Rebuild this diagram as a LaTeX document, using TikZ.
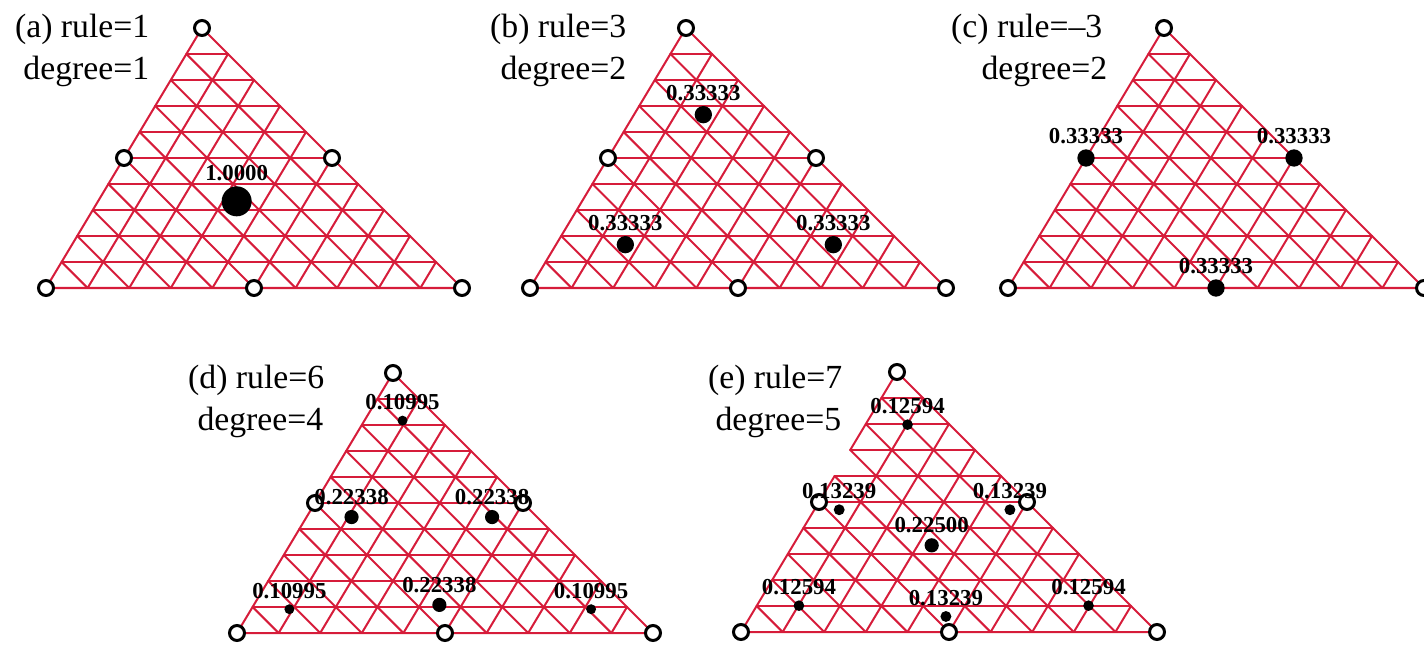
\documentclass[tikz,border=0pt]{standalone}
\usepackage{fontspec}
\setmainfont{Liberation Serif}
\usetikzlibrary{
    calc,
    positioning
}
\definecolor{meshred}{RGB}{214,28,58}
\definecolor{ink}{RGB}{0,0,0}
\tikzset{
    mesh/.style={
        draw=meshred,
        line width=0.57pt,
        line cap=round,
        line join=round
    },
    gridpt/.style={
        circle,
        draw=ink,
        line width=0.85pt,
        fill=white,
        inner sep=0pt,
        minimum size=0.15cm
    },
    qpoint/.style={
        circle,
        fill=ink,
        inner sep=0pt,
        minimum size={0.3cm*sqrt(#1)}
    },
    weight/.style={
        font=\fontsize{6.5}{7}\selectfont\bfseries,
        text=ink,
        inner sep=0pt
    },
    caption/.style={
        font=\fontsize{9.6}{11}\selectfont,
        text=ink,
        inner sep=0pt,
        anchor=base east
    }
}
% inner lines of a triangle cut into 10 x 10 pieces: #1 left, #2 right, #3 top
\newcommand{\trimesh}[3]{%
    \foreach \i in {1,...,9} {
        \draw[mesh] ($(#3)!\i/10!(#1)$) -- ($(#3)!\i/10!(#2)$);
        \draw[mesh] ($(#1)!\i/10!(#2)$) -- ($(#3)!\i/10!(#2)$);
        \draw[mesh] ($(#2)!\i/10!(#1)$) -- ($(#3)!\i/10!(#1)$);
    }%
}

\begin{document}
\begin{tikzpicture}
\useasboundingbox (0,0) rectangle (14.24,-6.47);

% (a) rule=1
\begin{scope}[shift={(0.46,-2.88)}]
    \coordinate (aL) at (0,0);
    \coordinate (aR) at (4.16,0);
    \coordinate (aT) at (1.56,2.60);
    \trimesh{aL}{aR}{aT}
    \draw[mesh] (aL) -- (aR) -- (aT) -- cycle;
    % nodes of the element
    \node[gridpt] (a-n1) at (aL) {};
    \node[gridpt] (a-n2) at (aR) {};
    \node[gridpt] (a-n3) at (aT) {};
    \node[gridpt] (a-n4) at ($(aL)!0.5!(aR)$) {};
    \node[gridpt] (a-n5) at ($(aR)!0.5!(aT)$) {};
    \node[gridpt] (a-n6) at ($(aT)!0.5!(aL)$) {};
    % quadrature point
    \node[qpoint=1] (a-q1) at (barycentric cs:aL=1,aR=1,aT=1) {};
    \node[weight, above=0.04cm of a-q1] (a-w1) {1.0000};
\end{scope}
\node[caption] (a-rule) at (1.50,-0.38) {(a) rule=1};
\node[caption] (a-deg) at (1.50,-0.80) {degree=1};

% (b) rule=3
\begin{scope}[shift={(5.30,-2.88)}]
    \coordinate (bL) at (0,0);
    \coordinate (bR) at (4.16,0);
    \coordinate (bT) at (1.56,2.60);
    \trimesh{bL}{bR}{bT}
    \draw[mesh] (bL) -- (bR) -- (bT) -- cycle;
    \node[gridpt] (b-n1) at (bL) {};
    \node[gridpt] (b-n2) at (bR) {};
    \node[gridpt] (b-n3) at (bT) {};
    \node[gridpt] (b-n4) at ($(bL)!0.5!(bR)$) {};
    \node[gridpt] (b-n5) at ($(bR)!0.5!(bT)$) {};
    \node[gridpt] (b-n6) at ($(bT)!0.5!(bL)$) {};
    \node[qpoint=0.33333] (b-q1) at (barycentric cs:bL=4,bR=1,bT=1) {};
    \node[qpoint=0.33333] (b-q2) at (barycentric cs:bL=1,bR=4,bT=1) {};
    \node[qpoint=0.33333] (b-q3) at (barycentric cs:bL=1,bR=1,bT=4) {};
    \node[weight, above=0.04cm of b-q1] (b-w1) {0.33333};
    \node[weight, above=0.04cm of b-q2] (b-w2) {0.33333};
    \node[weight, above=0.04cm of b-q3] (b-w3) {0.33333};
\end{scope}
\node[caption] (b-rule) at (6.27,-0.38) {(b) rule=3};
\node[caption] (b-deg) at (6.27,-0.80) {degree=2};

% (c) rule=-3
\begin{scope}[shift={(10.08,-2.88)}]
    \coordinate (cL) at (0,0);
    \coordinate (cR) at (4.16,0);
    \coordinate (cT) at (1.56,2.60);
    \trimesh{cL}{cR}{cT}
    \draw[mesh] (cL) -- (cR) -- (cT) -- cycle;
    \node[gridpt] (c-n1) at (cL) {};
    \node[gridpt] (c-n2) at (cR) {};
    \node[gridpt] (c-n3) at (cT) {};
    \node[qpoint=0.33333] (c-q1) at (barycentric cs:cL=1,cR=1,cT=0) {};
    \node[qpoint=0.33333] (c-q2) at (barycentric cs:cL=0,cR=1,cT=1) {};
    \node[qpoint=0.33333] (c-q3) at (barycentric cs:cL=1,cR=0,cT=1) {};
    \node[weight, above=0.04cm of c-q1] (c-w1) {0.33333};
    \node[weight, above=0.04cm of c-q2] (c-w2) {0.33333};
    \node[weight, above=0.04cm of c-q3] (c-w3) {0.33333};
\end{scope}
\node[caption] (c-rule) at (11.03,-0.38) {(c) rule=–3};
\node[caption] (c-deg) at (11.08,-0.80) {degree=2};

% (d) rule=6
\begin{scope}[shift={(2.37,-6.33)}]
    \coordinate (dL) at (0,0);
    \coordinate (dR) at (4.16,0);
    \coordinate (dT) at (1.56,2.60);
    \trimesh{dL}{dR}{dT}
    \draw[mesh] (dL) -- (dR) -- (dT) -- cycle;
    \node[gridpt] (d-n1) at (dL) {};
    \node[gridpt] (d-n2) at (dR) {};
    \node[gridpt] (d-n3) at (dT) {};
    \node[gridpt] (d-n4) at ($(dL)!0.5!(dR)$) {};
    \node[gridpt] (d-n5) at ($(dR)!0.5!(dT)$) {};
    \node[gridpt] (d-n6) at ($(dT)!0.5!(dL)$) {};
    % points near the vertices
    \node[qpoint=0.10995] (d-q1) at (barycentric cs:dL=0.816848,dR=0.091576,dT=0.091576) {};
    \node[qpoint=0.10995] (d-q2) at (barycentric cs:dL=0.091576,dR=0.816848,dT=0.091576) {};
    \node[qpoint=0.10995] (d-q3) at (barycentric cs:dL=0.091576,dR=0.091576,dT=0.816848) {};
    % points near the edge midpoints
    \node[qpoint=0.22338] (d-q4) at (barycentric cs:dL=0.445948,dR=0.445948,dT=0.108103) {};
    \node[qpoint=0.22338] (d-q5) at (barycentric cs:dL=0.108103,dR=0.445948,dT=0.445948) {};
    \node[qpoint=0.22338] (d-q6) at (barycentric cs:dL=0.445948,dR=0.108103,dT=0.445948) {};
    \node[weight, above=0.04cm of d-q1] (d-w1) {0.10995};
    \node[weight, above=0.04cm of d-q2] (d-w2) {0.10995};
    \node[weight, above=0.04cm of d-q3] (d-w3) {0.10995};
    \node[weight, above=0.04cm of d-q4] (d-w4) {0.22338};
    \node[weight, above=0.04cm of d-q5] (d-w5) {0.22338};
    \node[weight, above=0.04cm of d-q6] (d-w6) {0.22338};
\end{scope}
\node[caption] (d-rule) at (3.25,-3.88) {(d) rule=6};
\node[caption] (d-deg) at (3.24,-4.30) {degree=4};

% (e) rule=7
\begin{scope}[shift={(7.41,-6.32)}]
    \coordinate (eL) at (0,0);
    \coordinate (eR) at (4.16,0);
    \coordinate (eT) at (1.56,2.60);
    \trimesh{eL}{eR}{eT}
    % left side has a gap between rows 3 and 4
    \draw[mesh] ($(eL)!0.7!(eT)$) -- (eT) -- (eR) -- (eL) -- ($(eL)!0.6!(eT)$);
    \node[gridpt] (e-n1) at (eL) {};
    \node[gridpt] (e-n2) at (eR) {};
    \node[gridpt] (e-n3) at (eT) {};
    \node[gridpt] (e-n4) at ($(eL)!0.5!(eR)$) {};
    \node[gridpt] (e-n5) at ($(eR)!0.5!(eT)$) {};
    \node[gridpt] (e-n6) at ($(eT)!0.5!(eL)$) {};
    \node[qpoint=0.225] (e-q0) at (barycentric cs:eL=1,eR=1,eT=1) {};
    \node[qpoint=0.12594] (e-q1) at (barycentric cs:eL=0.797427,eR=0.101287,eT=0.101287) {};
    \node[qpoint=0.12594] (e-q2) at (barycentric cs:eL=0.101287,eR=0.797427,eT=0.101287) {};
    \node[qpoint=0.12594] (e-q3) at (barycentric cs:eL=0.101287,eR=0.101287,eT=0.797427) {};
    \node[qpoint=0.13239] (e-q4) at (barycentric cs:eL=0.470142,eR=0.470142,eT=0.059716) {};
    \node[qpoint=0.13239] (e-q5) at (barycentric cs:eL=0.059716,eR=0.470142,eT=0.470142) {};
    \node[qpoint=0.13239] (e-q6) at (barycentric cs:eL=0.470142,eR=0.059716,eT=0.470142) {};
    \node[weight, above=0.04cm of e-q0] (e-w0) {0.22500};
    \node[weight, above=0.04cm of e-q1] (e-w1) {0.12594};
    \node[weight, above=0.04cm of e-q2] (e-w2) {0.12594};
    \node[weight, above=0.04cm of e-q3] (e-w3) {0.12594};
    \node[weight, above=0.04cm of e-q4] (e-w4) {0.13239};
    \node[weight, above=0.04cm of e-q5] (e-w5) {0.13239};
    \node[weight, above=0.04cm of e-q6] (e-w6) {0.13239};
\end{scope}
\node[caption] (e-rule) at (8.43,-3.88) {(e) rule=7};
\node[caption] (e-deg) at (8.42,-4.30) {degree=5};

\end{tikzpicture}
\end{document}
